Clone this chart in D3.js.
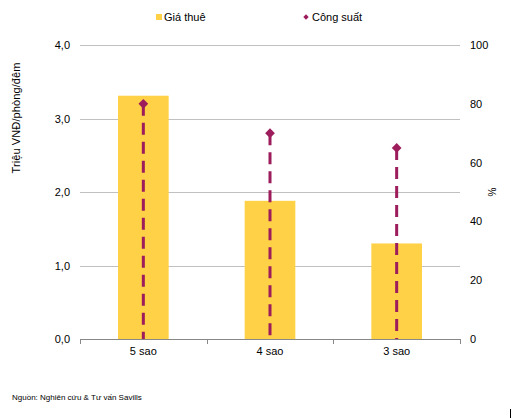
<!DOCTYPE html>
<html><head><meta charset="utf-8">
<script src="https://cdn.jsdelivr.net/npm/d3@7"></script>
<style>body{margin:0;background:#fff}svg{display:block;font-family:Arial,"Liberation Sans",sans-serif}</style>
</head><body><svg id="c" width="514" height="418"></svg>
<script>
const categories = ["5 sao", "4 sao", "3 sao"];
const giaThue = [3.31, 1.88, 1.30];
const congSuat = [80, 70, 65];
const leftTicks = [0, 1, 2, 3, 4];
const rightTicks = [0, 20, 40, 60, 80, 100];
const seriesNames = ["Giá thuê", "Công suất"];

const svg = d3.select("#c");
const L = 80, R = 460, T = 45, B = 339;
const x = d3.scaleBand().domain(categories).range([L, R]).paddingInner(0.6).paddingOuter(0.3);
const yL = d3.scaleLinear().domain([0, 4]).range([B, T]);
const yR = d3.scaleLinear().domain([0, 100]).range([B, T]);
const xc = d3.scaleBand().domain(categories).range([L, R]);

// gridlines
svg.append("g").selectAll("line").data(leftTicks.filter(d => d > 0)).join("line")
  .attr("x1", L).attr("x2", R).attr("y1", d => Math.round(yL(d)) + 0.5).attr("y2", d => Math.round(yL(d)) + 0.5)
  .attr("stroke", "#c0c0c0").attr("stroke-width", 1);

// bars
svg.append("g").selectAll("rect").data(giaThue).join("rect")
  .attr("x", (d, i) => x(categories[i])).attr("width", x.bandwidth())
  .attr("y", d => yL(d)).attr("height", d => B - yL(d))
  .attr("fill", "#FFD147");

// x axis
const xa = svg.append("g");
xa.append("line").attr("x1", L).attr("x2", R).attr("y1", B + 0.5).attr("y2", B + 0.5).attr("stroke", "#888");
const bounds = categories.map(c => xc(c)).concat([R]);
xa.selectAll("line.t").data(bounds).join("line").attr("class", "t")
  .attr("x1", d => Math.round(d) + 0.5).attr("x2", d => Math.round(d) + 0.5)
  .attr("y1", B).attr("y2", B + 5).attr("stroke", "#888");
xa.selectAll("text").data(categories).join("text")
  .attr("x", d => xc(d) + xc.bandwidth() / 2).attr("y", B + 16)
  .attr("text-anchor", "middle").attr("font-size", 11).attr("fill", "#000").text(d => d);

// left labels
svg.append("g").selectAll("text").data(leftTicks).join("text")
  .attr("x", 70).attr("y", d => yL(d) + 4).attr("text-anchor", "end")
  .attr("font-size", 11).text(d => d3.format(".1f")(d).replace(".", ","));
// right labels
svg.append("g").selectAll("text").data(rightTicks).join("text")
  .attr("x", 470).attr("y", d => yR(d) + 4).attr("text-anchor", "start")
  .attr("font-size", 11).text(d => d);

// axis titles
svg.append("text").attr("transform", "translate(20,118) rotate(-90)")
  .attr("text-anchor", "middle").attr("font-size", 11)
  .attr("textLength", 111).attr("lengthAdjust", "spacing").text("Triệu VNĐ/phòng/đêm");
svg.append("text").attr("transform", "translate(496,192) rotate(-90)")
  .attr("text-anchor", "middle").attr("font-size", 10).text("%");

// dashed lines + diamonds
const col = "#9C1C5C";
const lg = svg.append("g");
lg.selectAll("line").data(congSuat).join("line")
  .attr("x1", (d, i) => xc(categories[i]) + xc.bandwidth() / 2)
  .attr("x2", (d, i) => xc(categories[i]) + xc.bandwidth() / 2)
  .attr("y1", d => yR(d)).attr("y2", B)
  .attr("stroke", col).attr("stroke-width", 3).attr("stroke-dasharray", "12,7");
lg.selectAll("path").data(congSuat).join("path")
  .attr("d", d3.symbol(d3.symbolDiamond2, 60)())
  .attr("transform", (d, i) => `translate(${xc(categories[i]) + xc.bandwidth() / 2},${yR(d)})`)
  .attr("fill", col);

// legend
const leg = svg.append("g");
leg.append("rect").attr("x", 156).attr("y", 14).attr("width", 6).attr("height", 6).attr("fill", "#FFD147");
leg.append("text").attr("x", 164).attr("y", 21).attr("font-size", 11).text(seriesNames[0]);
leg.append("path").attr("d", d3.symbol(d3.symbolDiamond2, 18)()).attr("transform", "translate(306,17)").attr("fill", col);
leg.append("text").attr("x", 312).attr("y", 21).attr("font-size", 11).text(seriesNames[1]);

// source
svg.append("text").attr("x", 12).attr("y", 400).attr("font-size", 8).text("Nguồn: Nghiên cứu & Tư vấn Savills");
svg.append("line").attr("x1", 510.5).attr("x2", 510.5).attr("y1", 409).attr("y2", 418).attr("stroke", "#000");
</script></body></html>
